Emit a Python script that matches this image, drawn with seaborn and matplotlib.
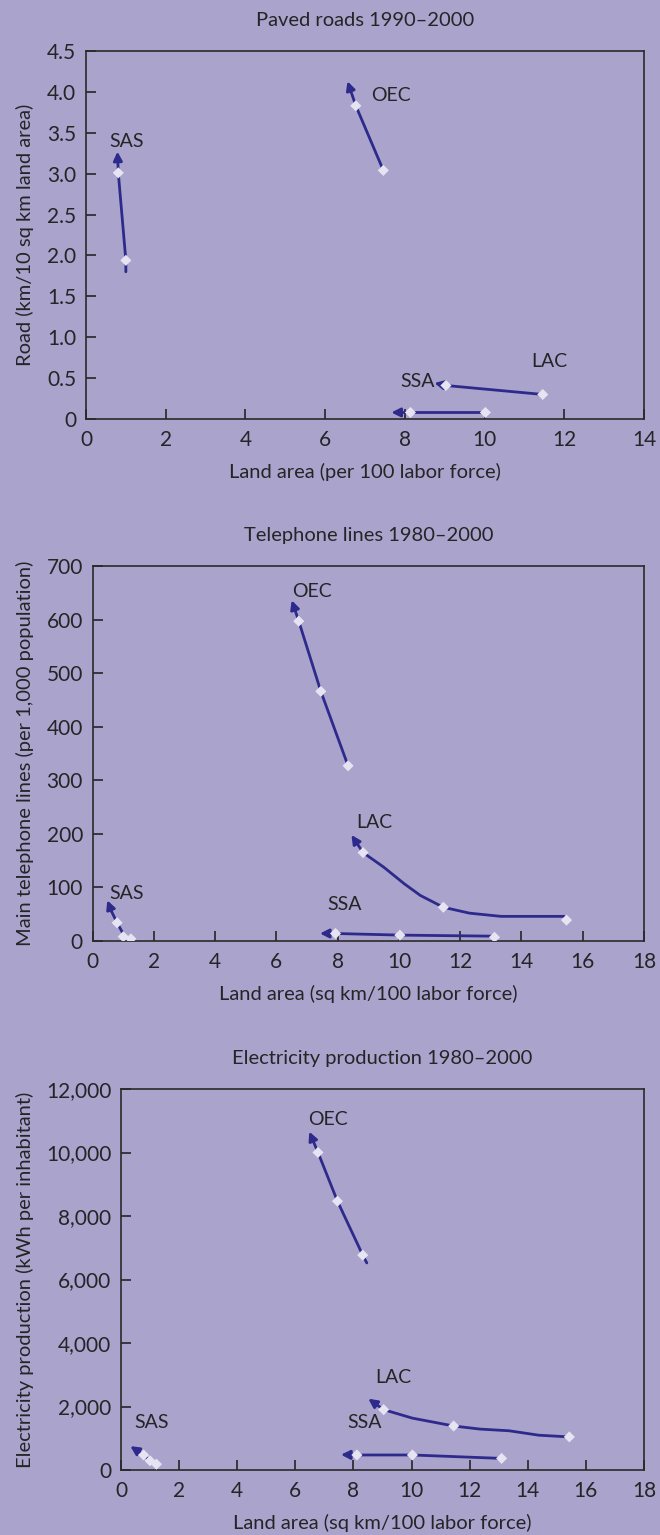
import matplotlib
matplotlib.use("Agg")
import matplotlib.pyplot as plt
import seaborn as sns
import pandas as pd

BG = "#aaa4cc"
LINE = "#2e2a8c"
MARK = "#e6e4f2"
TEXT = "#262426"

# ---- Paved roads 1990-2000 ----
road_x_label = "Land area (per 100 labor force)"
road_y_label = "Road (km/10 sq km land area)"
road_sas_x = [1.00, 0.81]
road_sas_y = [1.94, 3.01]
road_sas_path_x = [1.00, 1.00, 0.81, 0.79]
road_sas_path_y = [1.80, 1.94, 3.01, 3.27]
road_oec_x = [7.46, 6.77]
road_oec_y = [3.04, 3.83]
road_oec_path_x = [7.46, 6.77, 6.56]
road_oec_path_y = [3.04, 3.83, 4.13]
road_lac_x = [11.46, 9.03]
road_lac_y = [0.30, 0.41]
road_lac_path_x = [11.46, 9.03, 8.74]
road_lac_path_y = [0.30, 0.41, 0.44]
road_ssa_x = [10.02, 8.14]
road_ssa_y = [0.08, 0.08]
road_ssa_path_x = [10.02, 8.14, 7.66]
road_ssa_path_y = [0.08, 0.08, 0.08]
road_labels = {"SAS": (1.03, 3.39), "OEC": (7.66, 3.96), "LAC": (11.62, 0.70), "SSA": (8.33, 0.46)}

# ---- Telephone lines 1980-2000 ----
tel_x_label = "Land area (sq km/100 labor force)"
tel_y_label = "Main telephone lines (per 1,000 population)"
tel_oec_x = [8.34, 7.45, 6.73]
tel_oec_y = [327, 466, 597]
tel_oec_path_x = [8.34, 7.45, 6.73, 6.50]
tel_oec_path_y = [327, 466, 597, 636]
tel_lac_x = [15.47, 11.45, 8.83]
tel_lac_y = [39, 63, 165]
tel_lac_path_x = [15.40, 13.33, 12.30, 11.45, 10.70, 10.17, 9.50, 8.83, 8.45]
tel_lac_path_y = [46, 46, 52, 63, 85, 107, 138, 165, 198]
tel_ssa_x = [13.12, 10.03, 7.93]
tel_ssa_y = [7, 11, 14]
tel_ssa_path_x = [13.12, 10.03, 7.93, 7.42]
tel_ssa_path_y = [9, 11, 14, 14]
tel_sas_x = [1.25, 1.00, 0.80]
tel_sas_y = [4, 8, 34]
tel_sas_path_x = [1.05, 0.80, 0.62, 0.48]
tel_sas_path_y = [8, 34, 55, 76]
tel_labels = {"OEC": (7.15, 653), "LAC": (9.21, 221), "SSA": (8.24, 68), "SAS": (1.10, 89)}

# ---- Electricity production 1980-2000 ----
ele_x_label = "Land area (sq km/100 labor force)"
ele_y_label = "Electricity production (kWh per inhabitant)"
ele_oec_x = [8.32, 7.45, 6.78]
ele_oec_y = [6768, 8466, 10002]
ele_oec_path_x = [8.46, 8.32, 7.45, 6.78, 6.48]
ele_oec_path_y = [6521, 6768, 8466, 10002, 10657]
ele_lac_x = [15.43, 11.45, 9.04]
ele_lac_y = [1042, 1386, 1901]
ele_lac_path_x = [15.43, 14.38, 13.36, 12.35, 11.45, 10.03, 9.04, 8.51]
ele_lac_path_y = [1042, 1096, 1235, 1289, 1386, 1633, 1901, 2245]
ele_ssa_x = [13.10, 10.03, 8.12]
ele_ssa_y = [365, 473, 473]
ele_ssa_path_x = [13.10, 10.03, 8.12, 7.57]
ele_ssa_path_y = [365, 473, 473, 483]
ele_sas_x = [1.22, 1.00, 0.78]
ele_sas_y = [183, 290, 473]
ele_sas_path_x = [1.22, 1.00, 0.78, 0.32]
ele_sas_path_y = [183, 290, 473, 752]
ele_labels = {"OEC": (7.13, 11055), "LAC": (9.38, 2922), "SSA": (8.38, 1493), "SAS": (1.07, 1493)}

sns.set_theme(style="ticks")
plt.rcParams["font.family"] = ["Lato", "DejaVu Sans"]
plt.rcParams["text.color"] = TEXT
plt.rcParams["axes.labelcolor"] = TEXT
plt.rcParams["xtick.color"] = TEXT
plt.rcParams["ytick.color"] = TEXT

fig = plt.figure(figsize=(6.6, 15.35), dpi=100, facecolor=BG)


def draw_series(ax, mx, my, px, py):
    path = pd.DataFrame({"x": px[:-1], "y": py[:-1]})
    sns.lineplot(data=path, x="x", y="y", sort=False, estimator=None,
                 color=LINE, lw=2.0, ax=ax, zorder=2)
    ax.annotate("", xy=(px[-1], py[-1]), xytext=(px[-2], py[-2]),
                arrowprops=dict(arrowstyle="-|>", color=LINE, lw=2.0,
                                mutation_scale=13, shrinkA=0, shrinkB=0),
                zorder=2)
    pts = pd.DataFrame({"x": mx, "y": my})
    sns.scatterplot(data=pts, x="x", y="y", marker="D", s=32, color=MARK,
                    edgecolor="none", ax=ax, zorder=3)


def style_axes(ax, title, xlabel, ylabel, xmax, ymax, yticks, yfmt):
    ax.set_facecolor(BG)
    ax.set_xlim(0, xmax)
    ax.set_ylim(0, ymax)
    ax.set_xticks(range(0, xmax + 1, 2))
    ax.set_yticks(yticks)
    ax.set_yticklabels([yfmt(v) for v in yticks])
    ax.tick_params(direction="in", length=7, width=1.2, labelsize=15, pad=7,
                   top=False, right=False)
    ax.tick_params(axis="x", pad=8)
    for s in ax.spines.values():
        s.set_color("#2a2a2a")
        s.set_linewidth(1.2)
    ax.set_title(title, fontsize=14.5, pad=18, color=TEXT)
    ax.set_xlabel(xlabel, fontsize=14.5, labelpad=9)
    ax.set_ylabel("")
    bb = ax.get_position()
    fig.text(25 / 660, bb.y0 + bb.height / 2, ylabel, rotation=90,
             ha="center", va="center", fontsize=14.5, color=TEXT)


def put_labels(ax, labels):
    for name, (x, y) in labels.items():
        ax.text(x, y, name, ha="center", va="center", fontsize=14, color=TEXT)


# Panel 1
ax1 = fig.add_axes([86 / 660, 1 - 419 / 1535, 558 / 660, 368 / 1535])
draw_series(ax1, road_sas_x, road_sas_y, road_sas_path_x, road_sas_path_y)
draw_series(ax1, road_oec_x, road_oec_y, road_oec_path_x, road_oec_path_y)
draw_series(ax1, road_lac_x, road_lac_y, road_lac_path_x, road_lac_path_y)
draw_series(ax1, road_ssa_x, road_ssa_y, road_ssa_path_x, road_ssa_path_y)
put_labels(ax1, road_labels)
road_ticks = [0, 0.5, 1.0, 1.5, 2.0, 2.5, 3.0, 3.5, 4.0, 4.5]
style_axes(ax1, "Paved roads 1990–2000", road_x_label, road_y_label, 14, 4.5,
           road_ticks, lambda v: "0" if v == 0 else f"{v:.1f}")

# Panel 2
ax2 = fig.add_axes([92.6 / 660, 1 - 941 / 1535, 551.4 / 660, 375 / 1535])
draw_series(ax2, tel_oec_x, tel_oec_y, tel_oec_path_x, tel_oec_path_y)
draw_series(ax2, tel_lac_x, tel_lac_y, tel_lac_path_x, tel_lac_path_y)
draw_series(ax2, tel_ssa_x, tel_ssa_y, tel_ssa_path_x, tel_ssa_path_y)
draw_series(ax2, tel_sas_x, tel_sas_y, tel_sas_path_x, tel_sas_path_y)
put_labels(ax2, tel_labels)
style_axes(ax2, "Telephone lines 1980–2000", tel_x_label, tel_y_label, 18, 700,
           list(range(0, 701, 100)), lambda v: f"{v}")

# Panel 3
ax3 = fig.add_axes([121 / 660, 1 - 1470 / 1535, 523 / 660, 381 / 1535])
draw_series(ax3, ele_oec_x, ele_oec_y, ele_oec_path_x, ele_oec_path_y)
draw_series(ax3, ele_lac_x, ele_lac_y, ele_lac_path_x, ele_lac_path_y)
draw_series(ax3, ele_ssa_x, ele_ssa_y, ele_ssa_path_x, ele_ssa_path_y)
draw_series(ax3, ele_sas_x, ele_sas_y, ele_sas_path_x, ele_sas_path_y)
put_labels(ax3, ele_labels)
style_axes(ax3, "Electricity production 1980–2000", ele_x_label, ele_y_label, 18, 12000,
           list(range(0, 12001, 2000)), lambda v: f"{v:,}")

fig.savefig("out.png", dpi=100, facecolor=BG)
